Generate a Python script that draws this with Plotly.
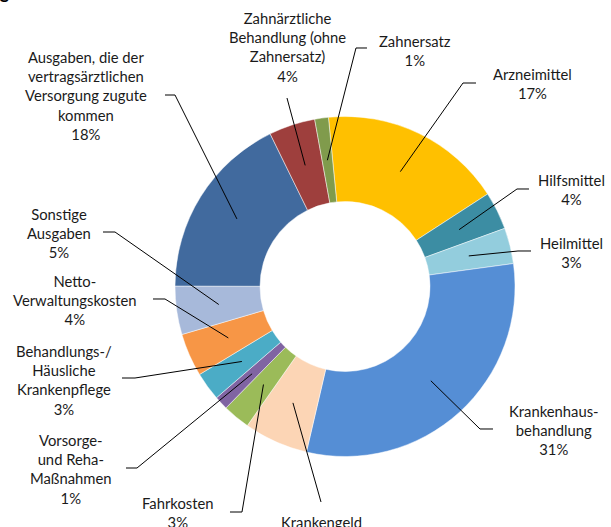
import math
import plotly.graph_objects as go

W, H = 611, 527

# ---- data (clockwise from the top) ----
names = [
    "Arzneimittel",
    "Hilfsmittel",
    "Heilmittel",
    "Krankenhaus-<br>behandlung",
    "Krankengeld",
    "Fahrkosten",
    "Vorsorge-<br>und Reha-<br>Maßnahmen",
    "Behandlungs-/<br>Häusliche<br>Krankenpflege",
    "Netto-<br>Verwaltungskosten",
    "Sonstige<br>Ausgaben",
    "Ausgaben, die der<br>vertragsärztlichen<br>Versorgung zugute<br>kommen",
    "Zahnärztliche<br>Behandlung (ohne<br>Zahnersatz)",
    "Zahnersatz",
]
shares = [17.4, 3.6, 3.4, 30.8, 6.1, 2.6, 1.3, 2.7, 4.1, 4.6, 17.7, 4.4, 1.3]
colors = ["#FFC000", "#3C8DA3", "#93CDDD", "#558ED5", "#FCD5B5", "#9BBB59",
          "#8064A2", "#4BACC6", "#F79646", "#A7B9DA", "#416A9E", "#9E3F3D", "#809B4C"]

# ---- layout of the chart (pixels) ----
CX, CY, R = 345.0, 286.5, 170.0
ROTATION = -5.6
HOLE = 0.5

# label block centres (px) and leader elbows (px, from label side inward)
label_pos = [
    (532, 83.5), (571, 189.5), (571, 252), (553.5, 429.5), (321, 531),
    (178, 512.4), (71, 469), (64, 379.7), (75, 299.5), (59, 232.5),
    (86, 96), (287, 47.5), (415, 50.5),
]
elbows = [
    [(476, 83), (463, 83)],
    [(529, 189), (517, 189)],
    [(531, 251), (518, 251)],
    [(493, 429), (480, 429)],
    [(321, 502)],
    [(230, 512), (242, 512)],
    [(126, 468), (137, 468)],
    [(122, 378), (135, 378)],
    [(153, 299), (165, 299)],
    [(103, 232), (115, 232)],
    [(165, 95), (175, 95)],
    [(287, 98)],
    [(367, 48), (356, 48)],
]


def px(x):
    return x / W


def py(y):
    return 1 - y / H


fig = go.Figure(go.Pie(
    values=shares,
    labels=[n.replace("<br>", " ") for n in names],
    sort=False,
    direction="clockwise",
    rotation=ROTATION,
    hole=HOLE,
    textinfo="none",
    hoverinfo="skip",
    marker=dict(colors=colors, line=dict(color="rgba(255,255,255,0.8)", width=0.6)),
    domain=dict(x=[px(CX - R), px(CX + R)], y=[py(CY + R), py(CY - R)]),
    showlegend=False,
))

total = sum(shares)
annotations = []
shapes = []
acc = 0.0
for name, v, (lx, ly), elb in zip(names, shares, label_pos, elbows):
    mid = math.radians(ROTATION + (acc + v / 2) / total * 360.0)
    acc += v
    r_in = R * 0.75
    ix = CX + r_in * math.sin(mid)
    iy = CY - r_in * math.cos(mid)
    pts = elb + [(ix, iy)]
    path = "M " + " L ".join(f"{px(x):.5f},{py(y):.5f}" for x, y in pts)
    shapes.append(dict(type="path", path=path, xref="paper", yref="paper",
                       line=dict(color="black", width=1)))
    pct = round(v / total * 100)
    annotations.append(dict(
        text=f"{name}<br>{pct}%", x=px(lx), y=py(ly), xref="paper", yref="paper",
        xanchor="center", yanchor="middle", align="center", showarrow=False,
        font=dict(family="Lato", size=14.8, color="#1a1a1a"),
    ))

# cropped title fragment at the top-left corner
annotations.append(dict(
    text="<b><u>Ausgabenverteilung</u></b>", x=px(12), y=py(5), xref="paper", yref="paper",
    xanchor="right", yanchor="bottom", showarrow=False,
    font=dict(family="Lato", size=18, color="black"),
))

fig.update_layout(
    width=W, height=H,
    margin=dict(l=0, r=0, t=0, b=0),
    paper_bgcolor="white", plot_bgcolor="white",
    shapes=shapes, annotations=annotations,
)

fig.write_html("out.html", config={"displayModeBar": False},
               post_script="document.body.style.margin='0';document.body.style.overflow='hidden';")
